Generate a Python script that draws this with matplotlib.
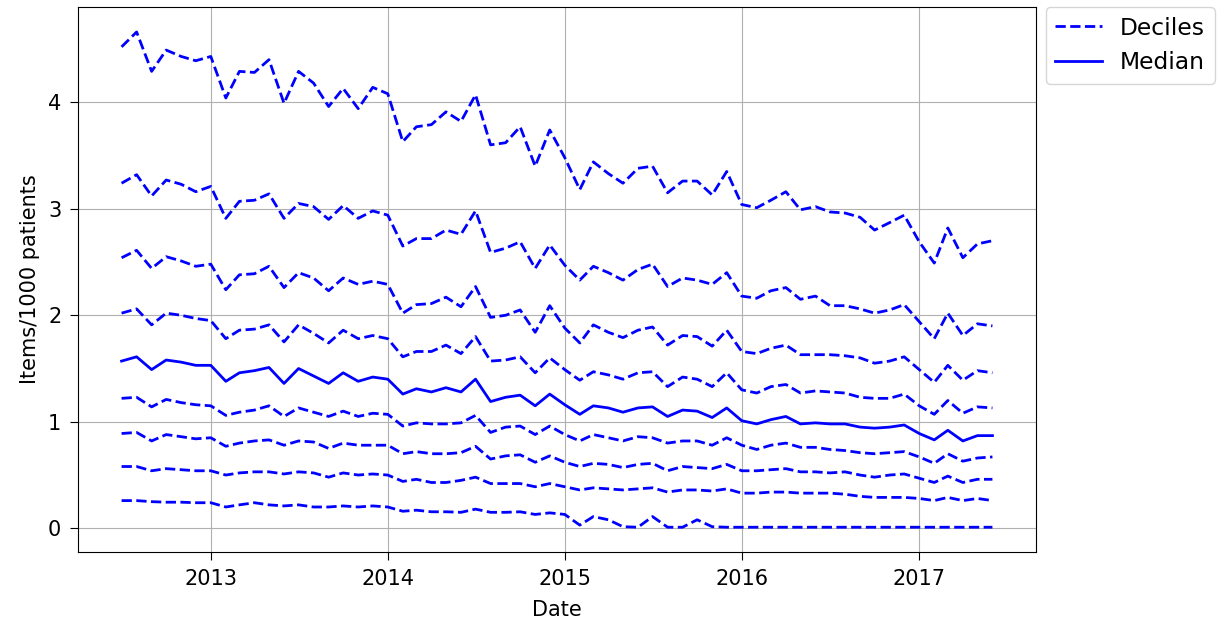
import pandas as pd
import matplotlib
matplotlib.use('Agg')
import matplotlib.pyplot as plt
import matplotlib.dates as mdates

# Monthly dates, Jul 2012 - Jun 2017
dates = pd.date_range('2012-07-01', periods=60, freq='MS')

# Deciles (items per 1000 patients)
d90 = [4.52, 4.66, 4.29, 4.49, 4.43, 4.39, 4.43, 4.04, 4.29, 4.28, 4.40, 3.99,
       4.29, 4.18, 3.96, 4.13, 3.94, 4.14, 4.08, 3.63, 3.77, 3.79, 3.91, 3.82,
       4.07, 3.60, 3.62, 3.77, 3.40, 3.74, 3.48, 3.18, 3.44, 3.33, 3.24, 3.38,
       3.40, 3.15, 3.26, 3.26, 3.13, 3.35, 3.04, 3.01, 3.08, 3.16, 2.99, 3.02,
       2.97, 2.96, 2.92, 2.80, 2.87, 2.94, 2.69, 2.49, 2.82, 2.54, 2.67, 2.70]
d80 = [3.24, 3.32, 3.12, 3.27, 3.23, 3.16, 3.21, 2.91, 3.07, 3.08, 3.14, 2.91,
       3.05, 3.02, 2.90, 3.03, 2.91, 2.98, 2.94, 2.65, 2.72, 2.72, 2.80, 2.76,
       2.98, 2.59, 2.63, 2.69, 2.44, 2.66, 2.47, 2.33, 2.46, 2.40, 2.33, 2.43,
       2.48, 2.27, 2.35, 2.33, 2.29, 2.40, 2.18, 2.16, 2.23, 2.26, 2.15, 2.18,
       2.09, 2.09, 2.06, 2.02, 2.05, 2.10, 1.94, 1.78, 2.02, 1.81, 1.92, 1.90]
d70 = [2.54, 2.61, 2.44, 2.55, 2.51, 2.46, 2.48, 2.24, 2.38, 2.39, 2.46, 2.26,
       2.40, 2.35, 2.23, 2.35, 2.29, 2.32, 2.29, 2.02, 2.10, 2.11, 2.17, 2.08,
       2.27, 1.98, 2.00, 2.05, 1.84, 2.09, 1.88, 1.74, 1.91, 1.84, 1.79, 1.86,
       1.89, 1.72, 1.81, 1.80, 1.71, 1.86, 1.66, 1.64, 1.69, 1.72, 1.63, 1.63,
       1.63, 1.62, 1.60, 1.55, 1.57, 1.61, 1.49, 1.37, 1.53, 1.39, 1.48, 1.46]
d60 = [2.02, 2.06, 1.91, 2.02, 2.00, 1.97, 1.95, 1.78, 1.86, 1.87, 1.91, 1.75,
       1.91, 1.83, 1.74, 1.86, 1.78, 1.81, 1.78, 1.61, 1.66, 1.66, 1.72, 1.64,
       1.80, 1.57, 1.58, 1.61, 1.46, 1.60, 1.49, 1.39, 1.47, 1.44, 1.40, 1.46,
       1.47, 1.33, 1.42, 1.40, 1.33, 1.46, 1.30, 1.27, 1.33, 1.35, 1.27, 1.29,
       1.28, 1.27, 1.23, 1.22, 1.22, 1.26, 1.15, 1.07, 1.20, 1.08, 1.14, 1.13]
median = [1.57, 1.61, 1.49, 1.58, 1.56, 1.53, 1.53, 1.38, 1.46, 1.48, 1.51, 1.36,
          1.50, 1.43, 1.36, 1.46, 1.38, 1.42, 1.40, 1.26, 1.31, 1.28, 1.32, 1.28,
          1.40, 1.19, 1.23, 1.25, 1.15, 1.26, 1.16, 1.07, 1.15, 1.13, 1.09, 1.13,
          1.14, 1.05, 1.11, 1.10, 1.04, 1.13, 1.01, 0.98, 1.02, 1.05, 0.98, 0.99,
          0.98, 0.98, 0.95, 0.94, 0.95, 0.97, 0.89, 0.83, 0.92, 0.82, 0.87, 0.87]
d40 = [1.22, 1.23, 1.14, 1.21, 1.18, 1.16, 1.15, 1.06, 1.09, 1.11, 1.15, 1.05,
       1.13, 1.09, 1.05, 1.10, 1.05, 1.08, 1.07, 0.96, 0.99, 0.98, 0.98, 0.99,
       1.06, 0.90, 0.95, 0.96, 0.88, 0.96, 0.88, 0.82, 0.88, 0.85, 0.82, 0.86,
       0.85, 0.80, 0.82, 0.82, 0.78, 0.85, 0.78, 0.74, 0.78, 0.80, 0.76, 0.76,
       0.74, 0.73, 0.71, 0.70, 0.71, 0.72, 0.67, 0.61, 0.70, 0.63, 0.66, 0.67]
d30 = [0.89, 0.90, 0.82, 0.88, 0.86, 0.84, 0.85, 0.77, 0.80, 0.82, 0.83, 0.78,
       0.82, 0.81, 0.75, 0.80, 0.78, 0.78, 0.78, 0.70, 0.72, 0.70, 0.70, 0.71,
       0.77, 0.65, 0.68, 0.69, 0.62, 0.68, 0.62, 0.58, 0.61, 0.60, 0.57, 0.60,
       0.61, 0.54, 0.58, 0.57, 0.56, 0.60, 0.54, 0.54, 0.55, 0.56, 0.53, 0.53,
       0.52, 0.53, 0.50, 0.48, 0.50, 0.51, 0.47, 0.43, 0.49, 0.43, 0.46, 0.46]
d20 = [0.58, 0.58, 0.54, 0.56, 0.55, 0.54, 0.54, 0.50, 0.52, 0.53, 0.53, 0.51,
       0.53, 0.52, 0.48, 0.52, 0.50, 0.51, 0.50, 0.44, 0.46, 0.43, 0.43, 0.45,
       0.48, 0.42, 0.42, 0.42, 0.39, 0.42, 0.39, 0.36, 0.38, 0.37, 0.36, 0.37,
       0.38, 0.34, 0.36, 0.36, 0.35, 0.37, 0.33, 0.33, 0.34, 0.34, 0.33, 0.33,
       0.33, 0.32, 0.30, 0.29, 0.29, 0.29, 0.28, 0.26, 0.29, 0.26, 0.28, 0.26]
d10 = [0.26, 0.26, 0.25, 0.245, 0.245, 0.24, 0.24, 0.20, 0.22, 0.24, 0.22, 0.21,
       0.22, 0.20, 0.20, 0.21, 0.20, 0.21, 0.20, 0.16, 0.17, 0.155, 0.155, 0.15,
       0.18, 0.15, 0.15, 0.155, 0.13, 0.145, 0.13, 0.03, 0.11, 0.08, 0.015, 0.01,
       0.11, 0.01, 0.01, 0.08, 0.015, 0.01, 0.01, 0.01, 0.01, 0.01, 0.01, 0.01,
       0.01, 0.01, 0.01, 0.01, 0.01, 0.01, 0.01, 0.01, 0.01, 0.01, 0.01, 0.01]

plt.rcParams['font.size'] = 15

fig = plt.figure(figsize=(12.25, 6.32), dpi=100)
ax = fig.add_axes([0.0637, 0.1266, 0.782, 0.862])

deciles = [d10, d20, d30, d40, d60, d70, d80, d90]
for k, d in enumerate(deciles):
    ax.plot(dates, d, 'b--', lw=2, label='Deciles' if k == 0 else None)
ax.plot(dates, median, 'b-', lw=2, label='Median')

ax.xaxis.set_major_locator(mdates.YearLocator())
ax.xaxis.set_major_formatter(mdates.DateFormatter('%Y'))
ax.tick_params(length=6, pad=6)
ax.grid(True)
ax.set_xlabel("Date", labelpad=8)
ax.set_ylabel("Items/1000 patients", labelpad=6)
ax.legend(loc='upper left', bbox_to_anchor=(1.01, 1.0), borderaxespad=0,
          fontsize=16.8, handlelength=2.0)

fig.savefig('out.png', dpi=100)
